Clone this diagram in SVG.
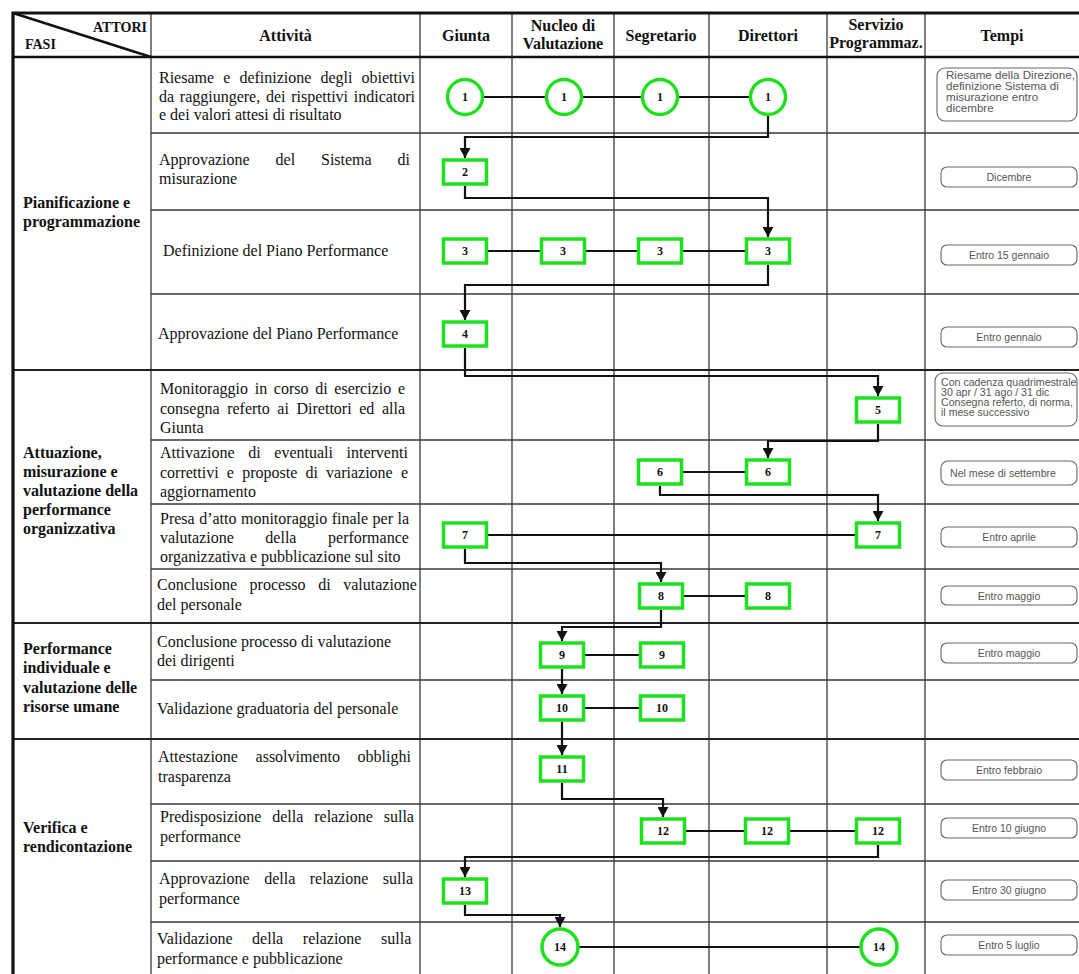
<svg xmlns="http://www.w3.org/2000/svg" width="1079" height="974" viewBox="0 0 1079 974">
<style>
.grid{stroke:#3a3a3a;stroke-width:1.3;fill:none}
.fase{stroke:#222;stroke-width:2;fill:none}
.border{stroke:#111;stroke-width:3.2;fill:none}
.hdr{font-family:"Liberation Serif",serif;font-weight:bold;font-size:16px;fill:#111}
.hdrs{font-family:"Liberation Serif",serif;font-weight:bold;font-size:14px;fill:#111}
.fasi{font-family:"Liberation Serif",serif;font-weight:bold;font-size:16px;fill:#111}
.att{font-family:"Liberation Serif",serif;font-size:16px;fill:#111}
.tb{fill:#fff;stroke:#666;stroke-width:1.1}
.tt{font-family:"Liberation Sans",Arial,sans-serif;font-size:10.6px;fill:#555}
.ttc{font-family:"Liberation Sans",Arial,sans-serif;font-size:10.5px;fill:#555;text-anchor:middle}
.conn{stroke:#111;stroke-width:2.2;fill:none}
.arr{stroke:#111;stroke-width:2.2;fill:none;marker-end:url(#ah)}
.box{fill:#fff;stroke:#1fe01f;stroke-width:3.5}
.nl{font-family:"Liberation Serif",serif;font-weight:bold;font-size:12px;fill:#111;text-anchor:middle}
</style>
<defs>
<marker id="ah" markerUnits="userSpaceOnUse" markerWidth="11" markerHeight="11" refX="10" refY="5.5" orient="auto">
<path d="M0,0 L10,5.5 L0,11 z" fill="#111"/>
</marker>
</defs>
<rect x="0" y="0" width="1079" height="974" fill="#fff"/>

<g id="grid">
<line class="grid" x1="151" y1="13" x2="151" y2="974"/>
<line class="grid" x1="420" y1="13" x2="420" y2="974"/>
<line class="grid" x1="512" y1="13" x2="512" y2="974"/>
<line class="grid" x1="614" y1="13" x2="614" y2="974"/>
<line class="grid" x1="709" y1="13" x2="709" y2="974"/>
<line class="grid" x1="827" y1="13" x2="827" y2="974"/>
<line class="grid" x1="925" y1="13" x2="925" y2="974"/>
<path class="grid" d="M151,133H1079M151,210H1079M151,294H1079M151,440H1079M151,504H1079M151,569H1079M151,680H1079M151,804H1079M151,861H1079M151,922H1079"/>
<path class="fase" d="M13,370H1079M13,623H1079M13,739H1079"/>
<line x1="13" y1="57" x2="1079" y2="57" stroke="#111" stroke-width="2.6"/>
<line x1="13" y1="13" x2="151" y2="57" stroke="#111" stroke-width="2.4"/>
<path class="border" d="M13,974V13H1079"/>
</g>

<g id="header">
<text class="hdrs" x="147" y="32" text-anchor="end">ATTORI</text>
<text class="hdrs" x="25" y="49">FASI</text>
<text class="hdr" x="285.5" y="41" text-anchor="middle">Attività</text>
<text class="hdr" x="466" y="41" text-anchor="middle">Giunta</text>
<text class="hdr" x="563" y="31" text-anchor="middle">Nucleo di</text>
<text class="hdr" x="563" y="49" text-anchor="middle">Valutazione</text>
<text class="hdr" x="661" y="41" text-anchor="middle">Segretario</text>
<text class="hdr" x="768" y="41" text-anchor="middle">Direttori</text>
<text class="hdr" x="876" y="30" text-anchor="middle">Servizio</text>
<text class="hdr" x="876" y="48" text-anchor="middle">Programmaz.</text>
<text class="hdr" x="1002" y="41" text-anchor="middle">Tempi</text>
</g>

<g id="fasi">
<text class="fasi" x="23" y="208">Pianificazione e</text>
<text class="fasi" x="23" y="227">programmazione</text>
<text class="fasi" x="23" y="458">Attuazione,</text>
<text class="fasi" x="23" y="477">misurazione e</text>
<text class="fasi" x="23" y="496">valutazione della</text>
<text class="fasi" x="23" y="515">performance</text>
<text class="fasi" x="23" y="534">organizzativa</text>
<text class="fasi" x="23" y="654">Performance</text>
<text class="fasi" x="23" y="673">individuale e</text>
<text class="fasi" x="23" y="693">valutazione delle</text>
<text class="fasi" x="23" y="712">risorse umane</text>
<text class="fasi" x="23" y="833">Verifica e</text>
<text class="fasi" x="23" y="852">rendicontazione</text>
</g>

<g id="attivita">
<text class="att" x="159" y="83" style="word-spacing:5.1px">Riesame e definizione degli obiettivi</text>
<text class="att" x="159" y="102" style="word-spacing:1.7px">da raggiungere, dei rispettivi indicatori</text>
<text class="att" x="159" y="120">e dei valori attesi di risultato</text>
<text class="att" x="159" y="165" style="word-spacing:21.9px">Approvazione del Sistema di</text>
<text class="att" x="159" y="184">misurazione</text>
<text class="att" x="163" y="256">Definizione del Piano Performance</text>
<text class="att" x="158" y="339">Approvazione del Piano Performance</text>
<text class="att" x="160" y="394" style="word-spacing:2.7px">Monitoraggio in corso di esercizio e</text>
<text class="att" x="160" y="414" style="word-spacing:3.6px">consegna referto ai Direttori ed alla</text>
<text class="att" x="160" y="433">Giunta</text>
<text class="att" x="160" y="458" style="word-spacing:9.6px">Attivazione di eventuali interventi</text>
<text class="att" x="160" y="478" style="word-spacing:4.2px">correttivi e proposte di variazione e</text>
<text class="att" x="160" y="497">aggiornamento</text>
<text class="att" x="160" y="524" style="word-spacing:0.5px">Presa d’atto monitoraggio finale per la</text>
<text class="att" x="160" y="543" style="word-spacing:27.6px">valutazione della performance</text>
<text class="att" x="160" y="562">organizzativa e pubblicazione sul sito</text>
<text class="att" x="157" y="590" style="word-spacing:8.6px">Conclusione processo di valutazione</text>
<text class="att" x="157" y="610">del personale</text>
<text class="att" x="157" y="647">Conclusione processo di valutazione</text>
<text class="att" x="157" y="666">dei dirigenti</text>
<text class="att" x="157" y="714">Validazione graduatoria del personale</text>
<text class="att" x="158" y="762" style="word-spacing:13.6px">Attestazione assolvimento obblighi</text>
<text class="att" x="158" y="782">trasparenza</text>
<text class="att" x="160" y="822" style="word-spacing:6.9px">Predisposizione della relazione sulla</text>
<text class="att" x="160" y="842">performance</text>
<text class="att" x="159" y="884" style="word-spacing:10.5px">Approvazione della relazione sulla</text>
<text class="att" x="159" y="904">performance</text>
<text class="att" x="157" y="944" style="word-spacing:15.6px">Validazione della relazione sulla</text>
<text class="att" x="157" y="964">performance e pubblicazione</text>
</g>

<g id="tempi">
<rect class="tb" x="937" y="68" width="140" height="53" rx="8"/>
<text class="tt" x="946" y="79" style="font-size:11.6px">Riesame della Direzione,</text>
<text class="tt" x="946" y="90" style="font-size:11.6px">definizione Sistema di</text>
<text class="tt" x="946" y="101" style="font-size:11.6px">misurazione entro</text>
<text class="tt" x="946" y="112" style="font-size:11.6px">dicembre</text>
<rect class="tb" x="941" y="167" width="136" height="20" rx="6"/>
<text class="ttc" x="1009" y="181">Dicembre</text>
<rect class="tb" x="941" y="245" width="136" height="20" rx="6"/>
<text class="ttc" x="1009" y="259">Entro 15 gennaio</text>
<rect class="tb" x="941" y="327" width="136" height="20" rx="6"/>
<text class="ttc" x="1009" y="341">Entro gennaio</text>
<rect class="tb" x="935" y="373" width="142" height="53" rx="8"/>
<text class="tt" x="941" y="385.5" style="font-size:10.6px">Con cadenza quadrimestrale</text>
<text class="tt" x="941" y="395.5" style="font-size:10.6px">30 apr / 31 ago / 31 dic</text>
<text class="tt" x="941" y="405.5" style="font-size:10.6px">Consegna referto, di norma,</text>
<text class="tt" x="941" y="415.5" style="font-size:10.6px">il mese successivo</text>
<rect class="tb" x="941" y="461" width="136" height="24" rx="7"/>
<text class="tt" x="950" y="477">Nel mese di settembre</text>
<rect class="tb" x="941" y="527" width="136" height="20" rx="6"/>
<text class="ttc" x="1009" y="541">Entro aprile</text>
<rect class="tb" x="941" y="586" width="136" height="19" rx="6"/>
<text class="ttc" x="1009" y="599.5">Entro maggio</text>
<rect class="tb" x="941" y="643" width="136" height="20" rx="6"/>
<text class="ttc" x="1009" y="657">Entro maggio</text>
<rect class="tb" x="941" y="760" width="136" height="20" rx="6"/>
<text class="ttc" x="1009" y="774">Entro febbraio</text>
<rect class="tb" x="941" y="818" width="136" height="20" rx="6"/>
<text class="ttc" x="1009" y="832">Entro 10 giugno</text>
<rect class="tb" x="941" y="880" width="136" height="20" rx="6"/>
<text class="ttc" x="1009" y="894">Entro 30 giugno</text>
<rect class="tb" x="941" y="935" width="136" height="20" rx="6"/>
<text class="ttc" x="1009" y="949">Entro 5 luglio</text>
</g>

<g id="connectors">
<path class="conn" d="M465,97H768"/>
<path class="conn" d="M465,251H768"/>
<path class="conn" d="M660,472H768"/>
<path class="conn" d="M465,535H878"/>
<path class="conn" d="M661,596H768"/>
<path class="conn" d="M562,655H662"/>
<path class="conn" d="M562,708H662"/>
<path class="conn" d="M663,831H878"/>
<path class="conn" d="M560,947H879"/>
<path class="arr" d="M768,114V137H465V158"/>
<path class="arr" d="M465,186V198H768V237"/>
<path class="arr" d="M768,265V285H465V320"/>
<path class="arr" d="M465,348V376H878V396"/>
<path class="arr" d="M878,424V441H768V458"/>
<path class="arr" d="M660,486V495H878V521"/>
<path class="arr" d="M465,549V563H661V582"/>
<path class="arr" d="M661,610V627H562V641"/>
<path class="arr" d="M562,669V694"/>
<path class="arr" d="M562,722V755"/>
<path class="arr" d="M562,783V799H663V817"/>
<path class="arr" d="M878,845V857H465V877"/>
<path class="arr" d="M465,905V915H560V927"/>
</g>

<g id="n1a"><circle class="box" cx="465" cy="97" r="17.5"/><text class="nl" x="465" y="101">1</text></g>
<g id="n1b"><circle class="box" cx="564" cy="97" r="17.5"/><text class="nl" x="564" y="101">1</text></g>
<g id="n1c"><circle class="box" cx="660" cy="97" r="17.5"/><text class="nl" x="660" y="101">1</text></g>
<g id="n1d"><circle class="box" cx="768" cy="97" r="17.5"/><text class="nl" x="768" y="101">1</text></g>
<g id="n2"><rect class="box" x="443.5" y="160" width="43" height="24"/><text class="nl" x="465" y="176">2</text></g>
<g id="n3a"><rect class="box" x="443.5" y="239" width="43" height="24"/><text class="nl" x="465" y="255">3</text></g>
<g id="n3b"><rect class="box" x="541.5" y="239" width="43" height="24"/><text class="nl" x="563" y="255">3</text></g>
<g id="n3c"><rect class="box" x="638.5" y="239" width="43" height="24"/><text class="nl" x="660" y="255">3</text></g>
<g id="n3d"><rect class="box" x="746.5" y="239" width="43" height="24"/><text class="nl" x="768" y="255">3</text></g>
<g id="n4"><rect class="box" x="443.5" y="322" width="43" height="24"/><text class="nl" x="465" y="338">4</text></g>
<g id="n5"><rect class="box" x="856.5" y="398" width="43" height="24"/><text class="nl" x="878" y="414">5</text></g>
<g id="n6a"><rect class="box" x="638.5" y="460" width="43" height="24"/><text class="nl" x="660" y="476">6</text></g>
<g id="n6b"><rect class="box" x="746.5" y="460" width="43" height="24"/><text class="nl" x="768" y="476">6</text></g>
<g id="n7a"><rect class="box" x="443.5" y="523" width="43" height="24"/><text class="nl" x="465" y="539">7</text></g>
<g id="n7b"><rect class="box" x="856.5" y="523" width="43" height="24"/><text class="nl" x="878" y="539">7</text></g>
<g id="n8a"><rect class="box" x="639.5" y="584" width="43" height="24"/><text class="nl" x="661" y="600">8</text></g>
<g id="n8b"><rect class="box" x="746.5" y="584" width="43" height="24"/><text class="nl" x="768" y="600">8</text></g>
<g id="n9a"><rect class="box" x="540.5" y="643" width="43" height="24"/><text class="nl" x="562" y="659">9</text></g>
<g id="n9b"><rect class="box" x="640.5" y="643" width="43" height="24"/><text class="nl" x="662" y="659">9</text></g>
<g id="n10a"><rect class="box" x="540.5" y="696" width="43" height="24"/><text class="nl" x="562" y="712">10</text></g>
<g id="n10b"><rect class="box" x="640.5" y="696" width="43" height="24"/><text class="nl" x="662" y="712">10</text></g>
<g id="n11"><rect class="box" x="540.5" y="757" width="43" height="24"/><text class="nl" x="562" y="773">11</text></g>
<g id="n12a"><rect class="box" x="641.5" y="819" width="43" height="24"/><text class="nl" x="663" y="835">12</text></g>
<g id="n12b"><rect class="box" x="745.5" y="819" width="43" height="24"/><text class="nl" x="767" y="835">12</text></g>
<g id="n12c"><rect class="box" x="856.5" y="819" width="43" height="24"/><text class="nl" x="878" y="835">12</text></g>
<g id="n13"><rect class="box" x="443.5" y="879" width="43" height="24"/><text class="nl" x="465" y="895">13</text></g>
<g id="n14a"><circle class="box" cx="560" cy="947" r="18"/><text class="nl" x="560" y="951">14</text></g>
<g id="n14b"><circle class="box" cx="879" cy="947" r="18"/><text class="nl" x="879" y="951">14</text></g>
</svg>
